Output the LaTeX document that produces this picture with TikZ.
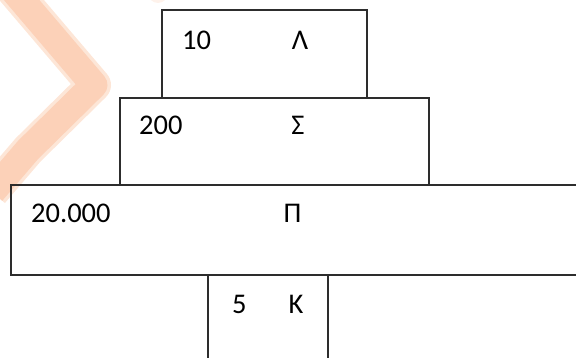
\documentclass[tikz,border=0pt]{standalone}
\usepackage{fontspec}
\setmainfont{Carlito}
\definecolor{peach}{RGB}{252,209,184}
\definecolor{peachsoft}{RGB}{253,230,215}
\definecolor{linegray}{RGB}{45,45,45}
\begin{document}
\begin{tikzpicture}[x=1pt,y=-1pt,
  boxline/.style={draw=linegray,line width=1.1pt},
  num/.style={anchor=base west,inner sep=0pt,font=\fontsize{28.5}{30}\selectfont},
  letter/.style={anchor=base,inner sep=0pt,font=\fontsize{28.5}{30}\selectfont}]
\useasboundingbox (0,0) rectangle (576,358);
% watermark
\begin{scope}
\clip (0,0) rectangle (576,358);
\draw[peachsoft,line width=34pt,line join=round] (8,-16) -- (94,85) -- (28,150) -- (-8,192);
\draw[peach,line width=27pt,line join=round] (8,-16) -- (94,85) -- (28,150) -- (-8,192);
\fill[peachsoft,opacity=0.5] (158,-7) circle (10pt);
\end{scope}
% boxes
\draw[boxline] (162,10) rectangle (367,98);
\draw[boxline] (120,98) rectangle (429,185);
\draw[boxline] (578,185) -- (11,185) -- (11,275) -- (578,275);
\draw[boxline] (208,275) -- (208,360);
\draw[boxline] (328,275) -- (328,360);
% texts
\node[num] (n10) at (182,50) {10};
\node[letter] (lam) at (300,50) {Λ};
\node[num] (n200) at (139,135) {200};
\node[letter] (sig) at (298,135) {Σ};
\node[num] (n20000) at (31,223) {20.000};
\node[letter] (pi) at (292.5,223) {Π};
\node[num] (n5) at (232,313) {5};
\node[letter] (kap) at (296,313) {Κ};
\end{tikzpicture}
\end{document}
